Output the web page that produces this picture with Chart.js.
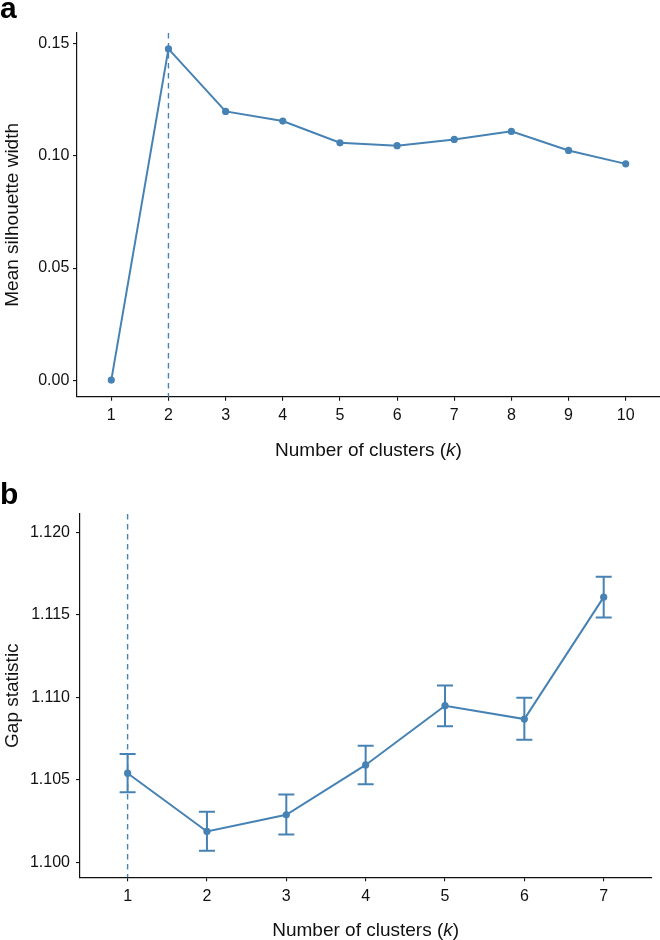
<!DOCTYPE html>
<html>
<head>
<meta charset="utf-8">
<script src="https://cdn.jsdelivr.net/npm/chart.js@4.4.1/dist/chart.umd.min.js"></script>
<style>
  html, body { margin: 0; padding: 0; background: #fff; overflow: hidden; }
  .panel { position: absolute; left: 0; width: 660px; height: 470px; }
</style>
</head>
<body>
<div class="panel" style="top:0"><canvas id="silChart" width="660" height="470"></canvas></div>
<div class="panel" style="top:470px"><canvas id="gapChart" width="660" height="470"></canvas></div>
<script>
// panel a: mean silhouette width per k
var silK = [1, 2, 3, 4, 5, 6, 7, 8, 9, 10];
var silWidth = [0.0, 0.1478, 0.1199, 0.1156, 0.1059, 0.1046, 0.1074, 0.1110, 0.1025, 0.0965];
var silTicks = [0.00, 0.05, 0.10, 0.15];
var silBestK = 2;

// panel b: gap statistic with error bars
var gapK = [1, 2, 3, 4, 5, 6, 7];
var gapValue = [1.1054, 1.10187, 1.10288, 1.1059, 1.10949, 1.10868, 1.11607];
var gapLower = [1.10425, 1.1007, 1.10169, 1.10473, 1.10824, 1.10743, 1.11484];
var gapUpper = [1.10657, 1.10306, 1.10411, 1.10707, 1.11071, 1.10997, 1.1173];
var gapTicks = [1.100, 1.105, 1.110, 1.115, 1.120];
var gapBestK = 1;

var BLUE = '#4682B4';
var INK = '#111';
var FONT = "'Liberation Sans', Arial, Helvetica, sans-serif";
Chart.defaults.font.family = FONT;

// vline, error bars, panel letter and the x title with italic k
function decor(o) {
  return {
    id: 'decor',
    beforeDatasetsDraw: function (chart) {
      var ctx = chart.ctx, xs = chart.scales.x, ys = chart.scales.y, area = chart.chartArea;
      ctx.save();
      ctx.strokeStyle = BLUE;
      ctx.lineWidth = 1.4;
      ctx.setLineDash([5.5, 4.5]);
      var vx = xs.getPixelForValue(o.bestK);
      ctx.beginPath();
      ctx.moveTo(vx, area.top);
      ctx.lineTo(vx, area.bottom);
      ctx.stroke();
      ctx.setLineDash([]);
      if (o.lo) {
        ctx.lineWidth = 2;
        for (var i = 0; i < o.k.length; i++) {
          var px = xs.getPixelForValue(o.k[i]);
          var y1 = ys.getPixelForValue(o.lo[i]);
          var y2 = ys.getPixelForValue(o.hi[i]);
          ctx.beginPath();
          ctx.moveTo(px, y1); ctx.lineTo(px, y2);
          ctx.moveTo(px - 8, y1); ctx.lineTo(px + 8, y1);
          ctx.moveTo(px - 8, y2); ctx.lineTo(px + 8, y2);
          ctx.stroke();
        }
      }
      ctx.restore();
    },
    afterDraw: function (chart) {
      var ctx = chart.ctx, area = chart.chartArea;
      ctx.save();
      ctx.fillStyle = '#000';
      ctx.textBaseline = 'alphabetic';
      ctx.font = 'bold ' + o.letterSize + 'px ' + FONT;
      ctx.fillText(o.letter, 0, o.letterY);

      ctx.fillStyle = INK;
      var parts = [['Number of clusters (', ''], ['k', 'italic '], [')', '']];
      var total = 0;
      parts.forEach(function (p) { ctx.font = p[1] + '19px ' + FONT; total += ctx.measureText(p[0]).width; });
      var x = (area.left + area.right) / 2 - total / 2;
      parts.forEach(function (p) {
        ctx.font = p[1] + '19px ' + FONT;
        ctx.fillText(p[0], x, o.titleY);
        x += ctx.measureText(p[0]).width;
      });
      ctx.restore();
    }
  };
}

function panelChart(id, o) {
  return new Chart(document.getElementById(id), {
    type: 'line',
    data: {
      datasets: [{
        data: o.k.map(function (k, i) { return { x: k, y: o.y[i] }; }),
        borderColor: BLUE,
        backgroundColor: BLUE,
        borderWidth: 2,
        pointRadius: 3.6,
        pointHoverRadius: 3.6,
        pointBorderWidth: 0,
        tension: 0
      }]
    },
    options: {
      responsive: false,
      animation: false,
      devicePixelRatio: 1,
      layout: { autoPadding: false, padding: { left: 0, top: o.top, right: o.right, bottom: 0 } },
      plugins: { legend: { display: false }, tooltip: { enabled: false } },
      scales: {
        x: {
          type: 'linear', min: o.xMin, max: o.xMax,
          afterBuildTicks: function (s) { s.ticks = o.k.map(function (v) { return { value: v }; }); },
          afterFit: function (s) { s.height = o.bottomH; s.paddingLeft = 0; s.paddingRight = 0; },
          grid: { drawOnChartArea: false, drawTicks: true, tickLength: 4, color: INK, lineWidth: 1.1 },
          border: { color: INK, width: 1.2 },
          ticks: { color: INK, font: { size: 16 }, padding: 5.5, autoSkip: false, maxRotation: 0,
                   callback: function (v) { return String(v); } }
        },
        y: {
          type: 'linear', min: o.yMin, max: o.yMax,
          afterBuildTicks: function (s) { s.ticks = o.ticks.map(function (v) { return { value: v }; }); },
          afterFit: function (s) { s.width = o.leftW; s.paddingTop = 0; s.paddingBottom = 0; },
          grid: { drawOnChartArea: false, drawTicks: true, tickLength: 4, color: INK, lineWidth: 1.1 },
          border: { color: INK, width: 1.2 },
          ticks: { color: INK, font: { size: 16 }, padding: o.tickPad, autoSkip: false,
                   callback: function (v) { return v.toFixed(o.dec); } },
          title: { display: true, text: o.yTitle, color: INK,
                   font: { size: 19, lineHeight: 1 }, padding: { top: 3, bottom: 0 } }
        }
      }
    },
    plugins: [decor(o)]
  });
}

panelChart('silChart', {
  k: silK, y: silWidth, ticks: silTicks, bestK: silBestK, dec: 2,
  xMin: 0.4, xMax: 10.6, yMin: -0.0074, yMax: 0.1549,
  yTitle: 'Mean silhouette width',
  top: 33, right: 0, leftW: 77, bottomH: 73.3, tickPad: 3.7,
  letter: 'a', letterSize: 30, letterY: 17.5, titleY: 456
});

panelChart('gapChart', {
  k: gapK, y: gapValue, lo: gapLower, hi: gapUpper, ticks: gapTicks, bestK: gapBestK, dec: 3,
  xMin: 0.4, xMax: 7.6, yMin: 1.09909, yMax: 1.12111,
  yTitle: 'Gap statistic',
  top: 44, right: 8.7, leftW: 80, bottomH: 62.7, tickPad: 6,
  letter: 'b', letterSize: 30, letterY: 34, titleY: 466
});
</script>
</body>
</html>
